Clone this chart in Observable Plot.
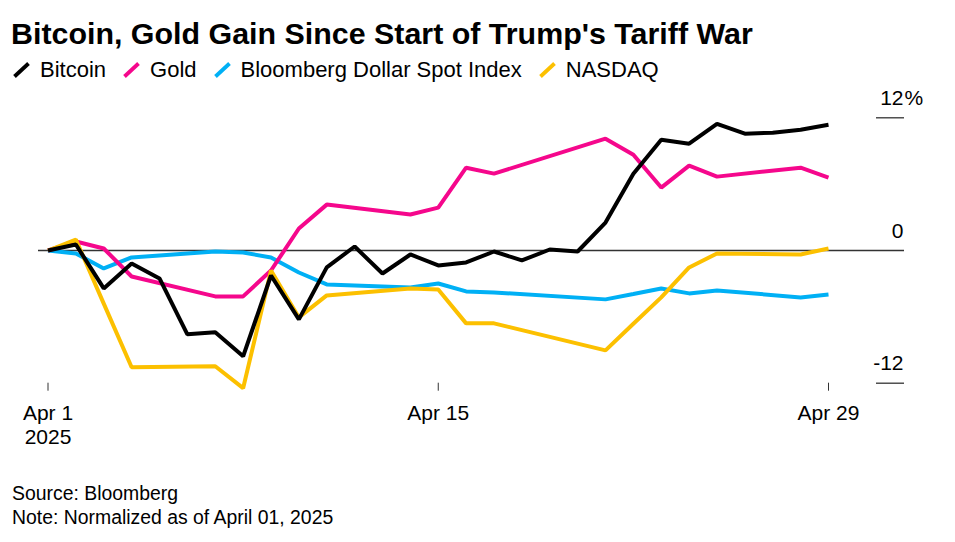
<!DOCTYPE html>
<html>
<head>
<meta charset="utf-8">
<script src="https://cdn.jsdelivr.net/npm/d3@7"></script>
<script src="https://cdn.jsdelivr.net/npm/@observablehq/plot@0.6"></script>
<style>
  html, body { margin: 0; padding: 0; background: #fff; }
  body { width: 955px; height: 542px; position: relative; overflow: hidden; font-family: "Liberation Sans", Arial, sans-serif; color: #000; }
  #title { position: absolute; left: 11px; top: 18px; font-size: 30.4px; line-height: 30px; font-weight: bold; white-space: nowrap; letter-spacing: 0px; }
  #legend { position: absolute; left: 13px; top: 59px; font-size: 22px; line-height: 22px; display: flex; align-items: center; white-space: nowrap; }
  .item { display: flex; align-items: center; margin-right: 17px; }
  .item svg { margin-right: 10px; }
  #chart { position: absolute; left: 0; top: 90px; }
  #caption { position: absolute; left: 12px; top: 481px; font-size: 19.4px; line-height: 24px; white-space: nowrap; }
</style>
</head>
<body>
<div id="title">Bitcoin, Gold Gain Since Start of Trump's Tariff War</div>
<div id="legend"></div>
<div id="chart"></div>
<div id="caption">Source: Bloomberg<br>Note: Normalized as of April 01, 2025</div>
<script>
// ---- Data (percent change since April 1, 2025) ----
const seriesNames = ["Bitcoin", "Gold", "Bloomberg Dollar Spot Index", "NASDAQ"];
const seriesColors = ["#000000", "#f5078c", "#00b0f5", "#fcc000"];

const btcDates = [
  "2025-04-01","2025-04-02","2025-04-03","2025-04-04","2025-04-05","2025-04-06","2025-04-07",
  "2025-04-08","2025-04-09","2025-04-10","2025-04-11","2025-04-12","2025-04-13","2025-04-14",
  "2025-04-15","2025-04-16","2025-04-17","2025-04-18","2025-04-19","2025-04-20","2025-04-21",
  "2025-04-22","2025-04-23","2025-04-24","2025-04-25","2025-04-26","2025-04-27","2025-04-28","2025-04-29"
];
const btcValues = [
  0, 0.54, -3.43, -1.17, -2.53, -7.58, -7.40,
  -9.57, -2.26, -6.23, -1.53, 0.36, -2.08, -0.36,
  -1.35, -1.08, -0.09, -0.90, 0.09, -0.09, 2.53,
  6.95, 10.02, 9.66, 11.46, 10.56, 10.65, 10.92, 11.37
];

const tradeDates = [
  "2025-04-01","2025-04-02","2025-04-03","2025-04-04","2025-04-07","2025-04-08","2025-04-09",
  "2025-04-10","2025-04-11","2025-04-14","2025-04-15","2025-04-16","2025-04-17","2025-04-21",
  "2025-04-22","2025-04-23","2025-04-24","2025-04-25","2025-04-28","2025-04-29"
];
const goldValues = [
  0, 0.81, 0.18, -2.35, -4.15, -4.15, -1.81,
  1.99, 4.15, 3.25, 3.88, 7.49, 6.95, 10.11,
  8.66, 5.69, 7.67, 6.68, 7.49, 6.59
];
const dollarValues = [
  0, -0.27, -1.62, -0.63, -0.09, -0.18, -0.63,
  -1.99, -3.07, -3.34, -2.98, -3.70, -3.79, -4.42,
  -3.93, -3.43, -3.88, -3.61, -4.24, -3.97
];
const nasdaqValues = [
  0, 0.99, -4.8, -10.56, -10.47, -12.45, -1.81,
  -6.05, -4.06, -3.43, -3.52, -6.59, -6.59, -9.03,
  -6.63, -4.24, -1.53, -0.27, -0.36, 0.18
];

const xTickDates = ["2025-04-01", "2025-04-15", "2025-04-29"];
const xTickLabels = ["Apr 1\n2025", "Apr 15", "Apr 29"];
const yTicks = [-12, 0, 12];
const yTickLabels = ["-12", "0", "12"];

// ---- Build tidy table ----
const parse = s => new Date(s + "T00:00:00Z");
const rows = [];
const addSeries = (name, dates, values) => dates.forEach((d, i) => rows.push({series: name, date: parse(d), value: values[i]}));
addSeries("Bloomberg Dollar Spot Index", tradeDates, dollarValues);
addSeries("Gold", tradeDates, goldValues);
addSeries("NASDAQ", tradeDates, nasdaqValues);
addSeries("Bitcoin", btcDates, btcValues);

// ---- Legend ----
const legend = document.getElementById("legend");
seriesNames.forEach((name, i) => {
  const item = document.createElement("div");
  item.className = "item";
  item.innerHTML = `<svg width="17" height="16"><line x1="1.5" y1="14.5" x2="15.5" y2="1.5" stroke="${seriesColors[i]}" stroke-width="3.8"/></svg><span>${name}</span>`;
  legend.appendChild(item);
});

// ---- Chart ----
const tickDates = xTickDates.map(parse);
const labelFor = new Map(tickDates.map((d, i) => [+d, xTickLabels[i]]));

const chart = Plot.plot({
  width: 955,
  height: 380,
  marginLeft: 38,
  marginRight: 51,
  marginTop: 27.3,
  marginBottom: 87.3,
  style: {fontFamily: "'Liberation Sans', Arial, sans-serif", fontSize: "21px", color: "#000", background: "transparent", overflow: "visible"},
  x: {type: "utc", domain: [parse("2025-04-01"), parse("2025-04-29")], range: [47.5, 828]},
  y: {domain: [-12, 12]},
  color: {domain: seriesNames, range: seriesColors},
  marks: [
    Plot.ruleY([0], {stroke: "#333", strokeWidth: 1.3}),
    Plot.ruleY([-12, 12], {stroke: "#333", strokeWidth: 1.3, insetLeft: 838}),
    Plot.text(yTicks, {y: d => d, text: (d, i) => yTickLabels[i], frameAnchor: "right", textAnchor: "end", lineAnchor: "bottom", dy: -13, dx: -1, fill: "#000"}),
    Plot.text([12], {y: d => d, text: () => "%", frameAnchor: "right", textAnchor: "start", lineAnchor: "bottom", dy: -13, dx: 0, fill: "#000"}),
    Plot.axisX({ticks: tickDates, tickFormat: d => labelFor.get(+d), tickSize: 8, tickPadding: 12, lineHeight: 1.15, stroke: "#333", fill: "#000", label: null}),
    Plot.axisY({ticks: [], label: null}),
    Plot.line(rows, {x: "date", y: "value", z: "series", stroke: "series", strokeWidth: 4, strokeLinejoin: "miter", strokeLinecap: "butt"})
  ]
});
document.getElementById("chart").appendChild(chart);
</script>
</body>
</html>
